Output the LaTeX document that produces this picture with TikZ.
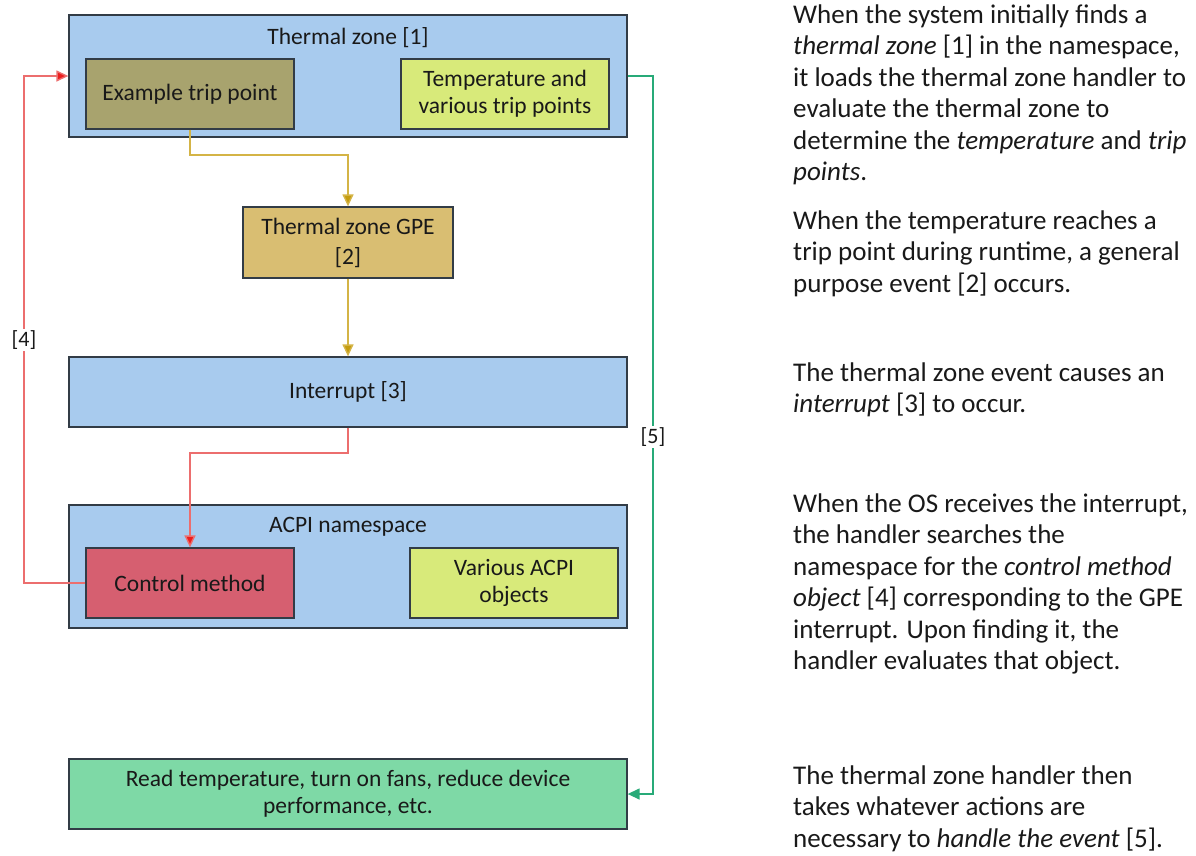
\documentclass[tikz,border=0pt]{standalone}
\usepackage{fontspec}
\setmainfont{Carlito}
\usetikzlibrary{arrows.meta,calc}
\definecolor{zblue}{RGB}{168,203,238}
\definecolor{zborder}{RGB}{50,60,70}
\definecolor{zolive}{RGB}{168,163,110}
\definecolor{zlime}{RGB}{216,234,122}
\definecolor{ztan}{RGB}{217,190,114}
\definecolor{zrose}{RGB}{214,95,112}
\definecolor{zgreen}{RGB}{126,217,166}
\definecolor{lyel}{RGB}{212,180,70}
\definecolor{ayel}{RGB}{196,156,16}
\definecolor{lred}{RGB}{236,110,110}
\definecolor{ared}{RGB}{235,30,30}
\definecolor{lgrn}{RGB}{40,170,120}
\definecolor{txt}{RGB}{25,25,25}
\tikzset{
  box/.style={draw=zborder, line width=1.3pt, rectangle, inner sep=0pt, align=center,
    font=\fontsize{23.5}{27}\selectfont, text=txt},
  boxtitle/.style={inner sep=0pt, font=\fontsize{23.5}{27}\selectfont, text=txt},
  conn/.style={line width=1.4pt},
  yelarrow/.style={conn, draw=lyel, -{Triangle[length=12pt,width=11pt,fill=ayel]}},
  redarrow/.style={conn, draw=lred, -{Triangle[length=12pt,width=11pt,fill=ared]}},
  grnarrow/.style={conn, draw=lgrn, -{Triangle[length=12pt,width=11pt,fill=lgrn]}},
  lbl/.style={fill=white, inner sep=2pt, font=\fontsize{22}{24}\selectfont, text=txt},
  para/.style={anchor=base west, inner sep=0pt, font=\fontsize{27}{31.5}\selectfont, text=txt},
}
\begin{document}
\begin{tikzpicture}[x=1pt,y=-1pt]
\useasboundingbox (0,0) rectangle (1196,855);
% containers
\node[box, fill=zblue, minimum width=558pt, minimum height=122pt] (tz) at (348,76) {};
\node[boxtitle] (tzt) at (348,38) {Thermal zone [1]};
\node[box, fill=zolive, minimum width=208pt, minimum height=70pt] (ex) at (190,94) {Example trip point};
\node[box, fill=zlime, minimum width=208pt, minimum height=70pt] (temp) at (505,94) {Temperature and\\various trip points};
\node[box, fill=ztan, minimum width=210pt, minimum height=71pt, font=\fontsize{23.5}{30}\selectfont] (gpe) at (348,242.5) {Thermal zone GPE\\{}[2]};
\node[box, fill=zblue, minimum width=558pt, minimum height=70pt] (intr) at (348,392) {Interrupt [3]};
\node[box, fill=zblue, minimum width=558pt, minimum height=123pt] (acpi) at (348,566.5) {};
\node[boxtitle] (acpit) at (348,527) {ACPI namespace};
\node[box, fill=zrose, minimum width=208pt, minimum height=70pt] (cm) at (190,583) {Control method};
\node[box, fill=zlime, minimum width=208pt, minimum height=70pt] (var) at (514,583) {Various ACPI\\objects};
\node[box, fill=zgreen, minimum width=558pt, minimum height=70pt] (rd) at (348,794) {Read temperature, turn on fans, reduce device\\performance, etc.};
% helper coordinates
\coordinate (c4) at (24,0);
\coordinate (c5) at (653,0);
\coordinate (y1) at (0,155);
\coordinate (y2) at (0,453);
% connectors
\draw[yelarrow] (ex.south) -- (ex.south |- y1) -| (gpe.north);
\draw[yelarrow] (gpe.south) -- (intr.north);
\draw[redarrow] (intr.south) -- (intr.south |- y2) -| (cm.north);
\draw[redarrow] (cm.west) -- (cm.west -| c4) |- (tz.west);
\draw[grnarrow] (tz.east) -- (tz.east -| c5) |- (rd.east);
\node[lbl] (l4) at (24,340) {[4]};
\node[lbl] (l5) at (653,437) {[5]};
% explanatory text
\node[para] (p1a) at (793,23) {When the system initially finds a};
\node[para] (p1b) at (793,54.5) {\textit{thermal zone} [1] in the namespace,};
\node[para] (p1c) at (793,86) {it loads the thermal zone handler to};
\node[para] (p1d) at (793,117.5) {evaluate the thermal zone to};
\node[para] (p1e) at (793,149) {determine the \textit{temperature} and \textit{trip}};
\node[para] (p1f) at (793,180.5) {\textit{points}.};
\node[para] (p2a) at (793,229) {When the temperature reaches a};
\node[para] (p2b) at (793,260.5) {trip point during runtime, a general};
\node[para] (p2c) at (793,292) {purpose event [2] occurs.};
\node[para] (p3a) at (793,381) {The thermal zone event causes an};
\node[para] (p3b) at (793,412.5) {\textit{interrupt} [3] to occur.};
\node[para] (p4a) at (793,512) {When the OS receives the interrupt,};
\node[para] (p4b) at (793,543.5) {the handler searches the};
\node[para] (p4c) at (793,575) {namespace for the \textit{control method}};
\node[para] (p4d) at (793,606.5) {\textit{object} [4] corresponding to the GPE};
\node[para] (p4e) at (793,638) {interrupt. Upon finding it, the};
\node[para] (p4f) at (793,669.5) {handler evaluates that object.};
\node[para] (p5a) at (793,784) {The thermal zone handler then};
\node[para] (p5b) at (793,815.5) {takes whatever actions are};
\node[para] (p5c) at (793,847) {necessary to \textit{handle the event} [5].};
\end{tikzpicture}
\end{document}
